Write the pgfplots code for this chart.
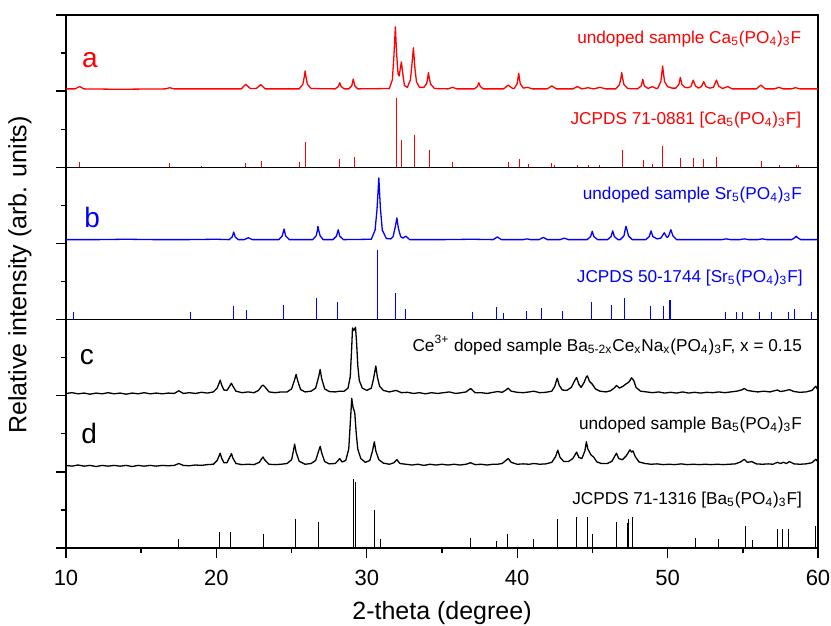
\documentclass[border=0pt]{standalone}
\usepackage{fontspec}
\setmainfont{Liberation Sans}
\usepackage{pgfplots}
\pgfplotsset{compat=1.18}

\newcommand{\fs}[1]{\fontsize{#1}{#1}\selectfont}

\pgfplotsset{
  xrdpanel/.style={
    scale only axis, width=376pt,
    xmin=10, xmax=60, ymin=0,
    axis line style={line width=0.8pt},
    tick align=outside, tick pos=left,
    yticklabels={}, minor y tick num=1,
    major tick length=5pt, minor tick length=2.6pt,
    tick style={line width=0.7pt, black},
    clip=false,
  },
  trace/.style={line width=0.65pt, no marks, line join=round},
  sticks/.style={ycomb, line width=0.5pt, no marks},
}

\begin{document}
\begin{tikzpicture}
\useasboundingbox (-33pt,-39pt) rectangle (382.5pt,274pt);

% ---------- bottom panel: Ba ----------
\begin{axis}[xrdpanel,
    height=114.2pt, ymax=6, ytick={0,2,4,6},
    xtick={10,20,...,60}, minor x tick num=1,
    ticklabel style={font=\fs{11}},
    xticklabel style={yshift=-2.5pt},
    /pgf/number format/assume math mode=true,
    xlabel={2-theta (degree)},
    xlabel style={font=\fs{12.5}, yshift=-1pt},
]
\addplot[trace, black] coordinates {
(10,4.06)(10.4,4.08)(10.8,4.05)(11.2,4.07)(11.6,4.04)(12,4.07)(12.4,4.05)(12.8,4.08)(13.2,4.05)(13.6,4.07)(14,4.04)(14.4,4.07)(14.8,4.05)(15.2,4.08)(15.6,4.05)(16,4.07)(16.4,4.05)(16.8,4.07)(17.2,4.06)(17.5,4.13)(17.8,4.06)(18.2,4.08)(18.6,4.06)(19,4.09)(19.4,4.07)(19.8,4.1)
(20.05,4.2)(20.18,4.33)(20.25,4.41)(20.35,4.28)(20.5,4.15)(20.7,4.14)(20.88,4.25)(21.0,4.33)(21.1,4.25)(21.3,4.12)(21.7,4.08)(22.1,4.1)(22.5,4.08)(22.8,4.14)(23.0,4.25)(23.1,4.28)(23.25,4.22)(23.5,4.1)(23.9,4.08)(24.3,4.1)(24.7,4.1)
(25.0,4.18)(25.2,4.42)(25.3,4.56)(25.4,4.4)(25.6,4.16)(25.9,4.1)(26.3,4.12)(26.6,4.2)(26.8,4.5)(26.9,4.69)(27.0,4.45)(27.2,4.18)(27.5,4.11)(27.9,4.1)(28.2,4.12)(28.5,4.12)(28.75,4.2)(28.9,4.5)(29.0,5.3)(29.05,5.78)(29.15,5.72)(29.25,5.80)(29.32,5.4)(29.4,4.8)(29.5,4.4)(29.7,4.2)
(30.0,4.14)(30.3,4.2)(30.45,4.45)(30.6,4.78)(30.7,4.5)(30.85,4.25)(31.1,4.14)(31.5,4.1)(31.95,4.14)(32.3,4.08)(32.7,4.09)(33.1,4.06)(33.5,4.08)(33.9,4.05)(34.3,4.08)(34.7,4.06)(35.1,4.08)(35.5,4.1)(35.9,4.06)(36.3,4.08)(36.6,4.1)(36.9,4.19)(37.2,4.08)(37.6,4.08)(38.0,4.06)(38.4,4.09)(38.7,4.11)(39.0,4.09)(39.25,4.15)(39.4,4.2)(39.6,4.12)
(40.0,4.09)(40.4,4.08)(40.8,4.1)(41.1,4.12)(41.5,4.08)(41.9,4.09)(42.3,4.12)(42.5,4.25)(42.66,4.46)(42.8,4.27)(43.0,4.15)(43.3,4.14)(43.6,4.22)(43.8,4.38)(43.95,4.48)(44.1,4.3)(44.25,4.22)(44.45,4.35)(44.6,4.5)(44.67,4.52)(44.8,4.38)(45.0,4.3)(45.2,4.18)(45.5,4.12)(45.9,4.1)(46.2,4.13)(46.45,4.2)(46.6,4.27)(46.8,4.2)(47.0,4.24)(47.2,4.3)(47.4,4.35)(47.5,4.4)(47.6,4.47)(47.75,4.4)(47.9,4.22)(48.2,4.12)(48.6,4.1)(49.0,4.08)(49.4,4.1)(49.8,4.07)
(50.2,4.09)(50.6,4.07)(51.0,4.1)(51.4,4.07)(51.8,4.09)(52.2,4.07)(52.6,4.09)(53.0,4.08)(53.4,4.1)(53.8,4.08)(54.2,4.1)(54.6,4.12)(54.9,4.15)(55.1,4.19)(55.3,4.14)(55.6,4.12)(56.0,4.1)(56.4,4.12)(56.8,4.1)(57.1,4.13)(57.3,4.15)(57.5,4.11)(57.8,4.13)(58.1,4.16)(58.4,4.11)(58.8,4.09)(59.2,4.1)(59.6,4.14)(59.85,4.25)(60,4.15)
};
\addplot[trace, black] coordinates {
(10,2.17)(10.4,2.15)(10.8,2.18)(11.2,2.15)(11.6,2.17)(12,2.14)(12.4,2.17)(12.8,2.15)(13.2,2.17)(13.6,2.15)(14,2.17)(14.4,2.14)(14.8,2.17)(15.2,2.15)(15.6,2.17)(16,2.15)(16.4,2.17)(16.8,2.16)(17.2,2.17)(17.5,2.22)(17.8,2.17)(18.2,2.16)(18.6,2.18)(19,2.17)(19.4,2.19)(19.8,2.2)
(20.05,2.3)(20.18,2.42)(20.25,2.49)(20.35,2.36)(20.5,2.24)(20.7,2.24)(20.88,2.38)(21.0,2.48)(21.1,2.36)(21.3,2.22)(21.7,2.19)(22.1,2.2)(22.5,2.19)(22.85,2.25)(23.0,2.34)(23.1,2.39)(23.2,2.32)(23.5,2.2)(23.9,2.19)(24.3,2.2)(24.7,2.22)
(25.0,2.32)(25.12,2.55)(25.2,2.73)(25.3,2.52)(25.5,2.28)(25.9,2.2)(26.3,2.22)(26.6,2.3)(26.8,2.55)(26.9,2.67)(27.0,2.5)(27.2,2.27)(27.5,2.21)(27.9,2.22)(28.05,2.28)(28.2,2.35)(28.35,2.26)(28.6,2.3)(28.8,2.6)(28.95,3.6)(29.0,3.93)(29.08,3.7)(29.15,3.62)(29.2,3.55)(29.3,3.0)(29.4,2.6)(29.6,2.35)(29.9,2.25)
(30.2,2.3)(30.38,2.55)(30.5,2.79)(30.6,2.55)(30.8,2.32)(31.1,2.23)(31.5,2.2)(31.8,2.24)(32.0,2.32)(32.2,2.22)(32.6,2.2)(33.0,2.18)(33.4,2.2)(33.8,2.17)(34.2,2.2)(34.6,2.18)(35.0,2.2)(35.4,2.18)(35.8,2.2)(36.2,2.18)(36.6,2.2)(36.9,2.24)(37.2,2.19)(37.6,2.2)(38.0,2.18)(38.4,2.2)(38.7,2.2)(39.0,2.22)(39.25,2.3)(39.4,2.35)(39.6,2.25)
(40.0,2.2)(40.4,2.21)(40.8,2.2)(41.1,2.22)(41.5,2.2)(41.9,2.21)(42.3,2.25)(42.55,2.4)(42.7,2.57)(42.85,2.38)(43.1,2.27)(43.4,2.27)(43.7,2.35)(43.95,2.52)(44.1,2.38)(44.3,2.35)(44.5,2.55)(44.6,2.79)(44.7,2.6)(44.9,2.45)(45.1,2.38)(45.3,2.26)(45.6,2.22)(46.0,2.22)(46.3,2.28)(46.5,2.42)(46.6,2.49)(46.75,2.35)(47.0,2.32)(47.25,2.42)(47.5,2.58)(47.6,2.52)(47.7,2.55)(47.85,2.4)(48.1,2.26)(48.5,2.22)(48.9,2.2)(49.3,2.21)(49.7,2.19)
(50.1,2.2)(50.5,2.19)(50.9,2.21)(51.3,2.19)(51.7,2.2)(52.1,2.19)(52.5,2.2)(52.9,2.19)(53.3,2.2)(53.7,2.19)(54.1,2.2)(54.5,2.21)(54.85,2.26)(55.1,2.33)(55.3,2.25)(55.6,2.27)(55.9,2.21)(56.3,2.2)(56.7,2.21)(57.0,2.2)(57.3,2.25)(57.5,2.22)(57.7,2.25)(57.9,2.22)(58.1,2.27)(58.4,2.21)(58.8,2.2)(59.2,2.21)(59.6,2.24)(59.85,2.33)(60,2.26)
};
\addplot[sticks, black] coordinates {
(17.51,0.23)(20.22,0.41)(20.97,0.41)(23.14,0.37)(25.29,0.76)(26.82,0.67)(29.1,1.82)(29.28,1.74)(30.52,1.0)(30.92,0.23)(36.9,0.25)(38.63,0.19)(39.36,0.37)(41.07,0.24)(42.71,0.75)(43.95,0.82)(44.69,0.82)(44.99,0.37)(46.57,0.69)(47.32,0.66)(47.43,0.75)(47.68,0.82)(51.87,0.25)(53.37,0.24)(55.19,0.59)(55.66,0.22)(57.32,0.5)(57.65,0.5)(58.05,0.5)(59.82,0.59)
};
\node[anchor=west, font=\fs{14}] at (axis cs:10.45,5.02) {c};
\node[anchor=west, font=\fs{14}] at (axis cs:10.55,3.02) {d};
\node[anchor=east, font=\fs{8.6}] at (axis cs:59.4,5.33)
  {Ce\textsuperscript{3+} doped sample Ba\textsubscript{5-2x}Ce\textsubscript{x}Na\textsubscript{x}(PO\textsubscript{4})\textsubscript{3}F, x = 0.15};
\node[anchor=east, font=\fs{8.6}] at (axis cs:59.4,3.23)
  {undoped sample Ba\textsubscript{5}(PO\textsubscript{4})\textsubscript{3}F};
\node[anchor=east, font=\fs{8.6}] at (axis cs:59.4,1.26)
  {JCPDS 71-1316 [Ba\textsubscript{5}(PO\textsubscript{4})\textsubscript{3}F]};
\end{axis}

% ---------- middle panel: Sr ----------
\begin{axis}[xrdpanel, at={(0pt,114.2pt)}, anchor=south west,
    height=76.14pt, ymax=4, ytick={0,2,4}, xtick=\empty]
\addplot[trace, blue] coordinates {
(10,2.1)(12,2.1)(14,2.11)(16,2.1)(18,2.1)(20,2.11)(20.85,2.1)(21.05,2.17)(21.15,2.30)(21.25,2.17)(21.45,2.1)(21.85,2.1)(22.12,2.15)(22.4,2.1)(24.15,2.1)(24.38,2.2)(24.5,2.38)(24.6,2.2)(24.85,2.1)
(26.4,2.1)(26.63,2.2)(26.72,2.35)(26.75,2.45)(26.8,2.35)(26.9,2.2)(27.1,2.1)(27.75,2.1)(27.98,2.19)(28.1,2.36)(28.2,2.19)(28.45,2.1)(30.3,2.11)(30.55,2.35)(30.68,2.9)(30.8,3.72)(30.9,2.95)(31.03,2.35)(31.3,2.13)(31.6,2.12)(31.75,2.18)(31.9,2.45)(32.0,2.67)(32.1,2.4)(32.25,2.18)(32.4,2.14)(32.6,2.19)(32.85,2.1)
(35,2.1)(37,2.11)(38.4,2.1)(38.68,2.17)(38.95,2.1)(40.4,2.1)(40.65,2.12)(40.9,2.1)(41.45,2.1)(41.74,2.16)(42.0,2.1)(42.85,2.1)(43.13,2.14)(43.4,2.1)(44.65,2.1)(44.88,2.18)(44.99,2.32)(45.1,2.18)(45.35,2.1)(46.0,2.1)(46.24,2.18)(46.35,2.33)(46.46,2.18)(46.7,2.1)(46.85,2.1)(47.1,2.2)(47.18,2.36)(47.23,2.45)(47.3,2.36)(47.4,2.2)(47.65,2.1)
(48.55,2.1)(48.78,2.18)(48.9,2.33)(49.02,2.18)(49.3,2.12)(49.55,2.14)(49.78,2.28)(49.95,2.16)(50.05,2.18)(50.22,2.36)(50.35,2.2)(50.6,2.1)(52,2.1)(53.6,2.1)(53.9,2.12)(54.2,2.1)(54.8,2.1)(55.1,2.12)(55.4,2.1)(56.0,2.1)(56.3,2.12)(56.6,2.1)(58.25,2.1)(58.45,2.15)(58.54,2.19)(58.65,2.15)(58.85,2.1)(60,2.1)
};
\addplot[sticks, blue] coordinates {
(10.49,0.19)(18.29,0.19)(21.15,0.37)(22.01,0.25)(24.45,0.39)(26.67,0.57)(28.06,0.46)(30.72,1.84)(31.92,0.70)(32.54,0.28)(37.04,0.19)(38.64,0.32)(39.12,0.17)(40.63,0.22)(41.63,0.30)(43.02,0.22)(44.95,0.47)(46.24,0.39)(47.15,0.58)(48.88,0.36)(49.72,0.36)(50.1,0.52)(50.18,0.52)(53.84,0.2)(54.6,0.19)(54.95,0.19)(56.14,0.19)(56.92,0.19)(58.07,0.21)(58.47,0.29)(59.54,0.19)
};
\node[anchor=west, font=\fs{14}, blue] at (axis cs:10.75,2.69) {b};
\node[anchor=east, font=\fs{8.6}, blue] at (axis cs:59.4,3.27)
  {undoped sample Sr\textsubscript{5}(PO\textsubscript{4})\textsubscript{3}F};
\node[anchor=east, font=\fs{8.6}, blue] at (axis cs:59.45,1.09)
  {JCPDS 50-1744 [Sr\textsubscript{5}(PO\textsubscript{4})\textsubscript{3}F]};
\end{axis}

% ---------- top panel: Ca ----------
\begin{axis}[xrdpanel, at={(0pt,190.34pt)}, anchor=south west,
    height=76.14pt, ymax=4, ytick={0,2,4}, xtick=\empty]
\addplot[trace, red] coordinates {
(10,2.06)(10.6,2.06)(10.9,2.12)(11.2,2.06)(13.5,2.05)(16.6,2.06)(16.9,2.09)(17.2,2.06)(19,2.06)(21.65,2.06)(21.95,2.18)(22.25,2.07)(22.65,2.07)(22.95,2.17)(23.25,2.06)
(25.5,2.06)(25.75,2.18)(25.85,2.39)(25.9,2.53)(25.95,2.39)(26.05,2.18)(26.3,2.07)(27.9,2.06)(28.1,2.12)(28.2,2.22)(28.3,2.12)(28.5,2.06)(28.8,2.06)(29.0,2.14)(29.1,2.32)(29.2,2.14)(29.4,2.06)
(31.5,2.07)(31.7,2.3)(31.8,2.9)(31.9,3.69)(31.98,3.0)(32.08,2.45)(32.15,2.4)(32.3,2.77)(32.38,2.5)(32.5,2.15)(32.7,2.1)(32.9,2.3)(33.0,2.7)(33.1,3.14)(33.2,2.6)(33.3,2.25)(33.5,2.1)(33.8,2.1)(33.98,2.2)(34.05,2.35)(34.1,2.49)(34.15,2.35)(34.25,2.18)(34.5,2.07)
(35.4,2.06)(35.7,2.10)(36.0,2.06)(37.15,2.06)(37.35,2.12)(37.45,2.22)(37.55,2.12)(37.75,2.06)(39.1,2.06)(39.4,2.16)(39.7,2.07)(39.8,2.07)(40.0,2.2)(40.1,2.47)(40.2,2.2)(40.4,2.08)(40.7,2.10)(41.0,2.06)
(42.0,2.06)(42.3,2.14)(42.6,2.06)(43.7,2.06)(44.0,2.12)(44.3,2.06)(44.7,2.09)(45.1,2.06)(45.5,2.10)(45.9,2.06)(46.55,2.06)(46.8,2.17)(46.9,2.36)(46.95,2.49)(47.0,2.36)(47.1,2.17)(47.35,2.07)
(48.0,2.06)(48.25,2.14)(48.35,2.31)(48.45,2.14)(48.7,2.07)(48.98,2.12)(49.25,2.07)(49.35,2.08)(49.55,2.25)(49.62,2.48)(49.67,2.66)(49.72,2.48)(49.8,2.25)(50.0,2.12)(50.3,2.08)
(50.55,2.08)(50.75,2.18)(50.85,2.36)(50.95,2.18)(51.15,2.1)(51.35,2.09)(51.55,2.12)(51.7,2.29)(51.85,2.14)(52.05,2.08)(52.25,2.12)(52.4,2.25)(52.55,2.12)(52.8,2.08)(53.05,2.1)(53.25,2.29)(53.4,2.13)(53.65,2.07)(54.0,2.12)(54.3,2.06)
(55.9,2.06)(56.2,2.16)(56.5,2.06)(57.1,2.06)(57.4,2.10)(57.7,2.06)(58.2,2.06)(58.5,2.09)(58.8,2.06)(60,2.06)
};
\addplot[sticks, red] coordinates {
(10.93,0.15)(16.91,0.12)(19.02,0.03)(21.95,0.12)(22.99,0.17)(25.51,0.13)(25.91,0.67)(28.2,0.23)(29.15,0.28)(31.98,1.81)(32.32,0.72)(33.16,0.86)(34.2,0.45)(35.71,0.13)(39.41,0.13)(40.12,0.23)(40.74,0.1)(42.29,0.12)(42.51,0.05)(44.0,0.07)(44.73,0.05)(45.46,0.05)(46.99,0.45)(48.39,0.18)(48.98,0.1)(49.67,0.56)(50.87,0.24)(51.71,0.25)(52.42,0.22)(53.26,0.26)(56.25,0.17)(57.43,0.06)(58.54,0.05)(58.69,0.05)
};
\node[anchor=west, font=\fs{14}, red] at (axis cs:10.6,2.82) {a};
\node[anchor=east, font=\fs{8.6}, red] at (axis cs:59.35,3.37)
  {undoped sample Ca\textsubscript{5}(PO\textsubscript{4})\textsubscript{3}F};
\node[anchor=east, font=\fs{8.6}, red] at (axis cs:59.35,1.24)
  {JCPDS 71-0881 [Ca\textsubscript{5}(PO\textsubscript{4})\textsubscript{3}F]};
\end{axis}

\node[rotate=90, font=\fs{12.5}] at (-23pt,136.5pt) {Relative intensity (arb. units)};
\end{tikzpicture}
\end{document}
